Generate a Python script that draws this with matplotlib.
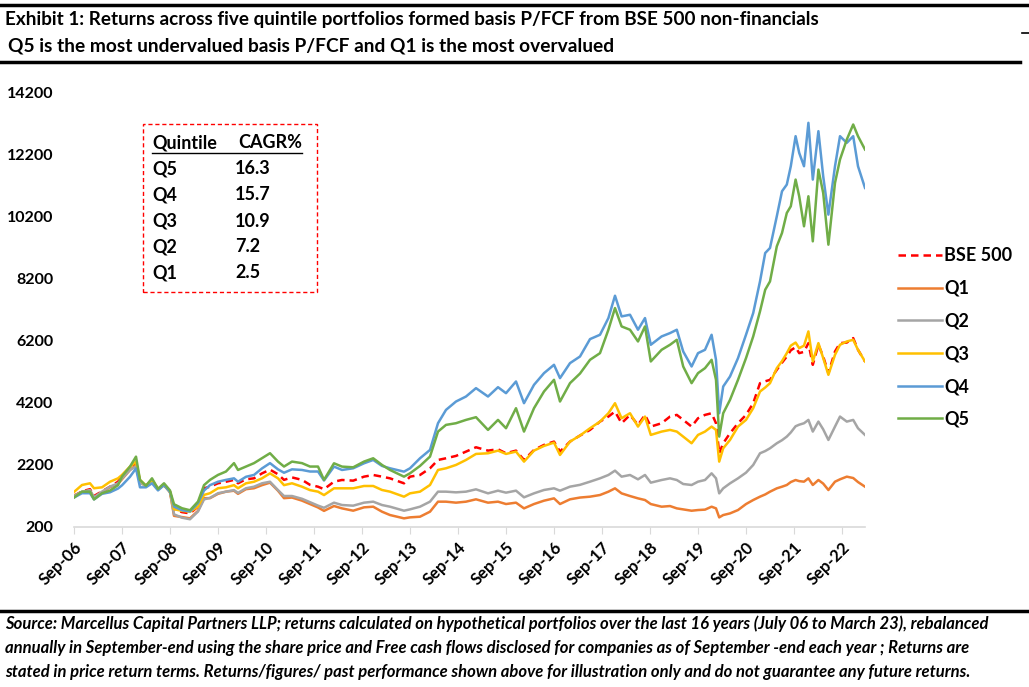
import matplotlib
matplotlib.use("Agg")
import matplotlib.pyplot as plt
from matplotlib.patches import Rectangle
from matplotlib.lines import Line2D

plt.rcParams['font.family'] = ['Lato', 'DejaVu Sans']
plt.rcParams['font.weight'] = 'bold'

# months since Sep-06
months = [0, 2, 4, 5, 7, 9, 11, 12, 14, 15.5, 16.5, 18, 19.5, 21, 22.5, 24, 25, 27, 29, 31,
          32.5, 34, 36, 38, 40, 41, 43, 45, 47, 49, 51, 52.5, 54.5, 57, 59, 61, 62.5, 65, 67, 69.8,
          72.5, 74.8, 77, 79, 82.5, 84, 86.5, 89, 91, 93, 95.5, 98, 100.5, 103.5, 106, 108, 110.5, 112.5,
          115, 117.5, 120, 121.5, 124, 126.5, 129, 131.5, 133.6, 135.25, 136.9, 139, 141, 142.75, 144.2,
          146.9, 149, 150.7, 152.3, 154.4, 156, 157.75, 159.4, 160.5, 161.3, 162.3, 164, 166, 168, 169.8,
          171.5, 172.8, 174, 175.7, 177, 178.2, 179.2, 180.4, 181.3, 182.5, 183.6, 184.7, 186.1, 187.3,
          188.6, 190.25, 191.5, 193.2, 194.8, 196, 197.75]

q5 = [1150, 1340, 1340, 1090, 1290, 1375, 1550, 1830, 2150, 2470, 1720, 1530, 1770, 1430, 1610, 1380, 935, 805, 740, 1020,
      1550, 1720, 1880, 1990, 2260, 2040, 2150, 2260, 2420, 2580, 2310, 2150, 2310, 2260, 2150, 2150, 1720, 2255, 2148, 2126,
      2310, 2417, 2202, 2040, 1824, 1932, 2170, 2471, 3278, 3494, 3548, 3655, 3742, 3332, 3655, 3386, 4032, 3278,
      4032, 4571, 4948, 4248, 4840, 5150, 5593, 5808, 6563, 7263, 6670, 6563, 6185, 6670, 5540,
      5916, 6078, 6239, 5378, 4840, 5163, 5324, 5593, 4947, 3116, 3870, 4301, 4947, 5647, 6347,
      7155, 7853, 8122, 9253, 9684, 10330, 10546, 11407, 10869, 9900, 10869, 9415, 11730, 10976,
      9307, 11300, 12054, 12700, 13184, 12807, 12377]

q4 = [1150, 1290, 1290, 1090, 1270, 1320, 1440, 1545, 1820, 2090, 1480, 1480, 1610, 1380, 1550, 1330, 860, 740, 700, 970,
      1375, 1550, 1660, 1720, 1770, 1660, 1820, 1880, 2090, 2260, 2060, 1950, 2060, 2040, 1990, 1990, 1700, 2148, 2040, 2094,
      2255, 2363, 2170, 2094, 1986, 2094, 2417, 2686, 3548, 3978, 4248, 4409, 4679, 4409, 4710, 4517, 4894, 4194,
      4786, 5163, 5432, 5002, 5486, 5700, 6261, 6401, 6940, 7661, 6993, 7047, 6563, 6940, 6078,
      6347, 6455, 6563, 5862, 5378, 5808, 5916, 6401, 5593, 3870, 4732, 5055, 5647, 6401, 7101,
      8122, 9038, 9200, 10223, 11030, 11246, 11838, 12807, 12269, 11838, 13238, 11407, 12969, 11515,
      10276, 11838, 12807, 12592, 12807, 11838, 11138]

bse500 = [1200, 1350, 1420, 1200, 1350, 1500, 1660, 1830, 2100, 2260, 1660, 1530, 1660, 1430, 1550, 1330, 780, 680, 640, 860,
          1450, 1500, 1610, 1660, 1720, 1610, 1740, 1770, 1930, 2050, 1900, 1720, 1800, 1720, 1560, 1500, 1420, 1663, 1717, 1695,
          1824, 1878, 1824, 1770, 1609, 1824, 1878, 2094, 2363, 2417, 2493, 2632, 2772, 2664, 2707, 2578, 2664, 2363,
          2686, 2848, 2955, 2632, 2955, 3150, 3332, 3600, 3762, 3924, 3547, 3816, 3493, 3816, 3439,
          3547, 3762, 3816, 3655, 3439, 3708, 3816, 3870, 3547, 2578, 2901, 3224, 3547, 3816, 4193,
          4839, 4900, 4947, 5270, 5500, 5701, 5900, 6000, 5808, 5850, 6132, 5432, 6078, 5700,
          5163, 5862, 6132, 6150, 6293, 5916, 5539]

q3 = [1330, 1555, 1610, 1450, 1480, 1660, 1770, 1880, 2150, 2310, 1720, 1530, 1720, 1430, 1550, 1330, 775, 720, 690, 860,
      1235, 1290, 1450, 1480, 1550, 1450, 1610, 1660, 1770, 1930, 1770, 1550, 1610, 1500, 1390, 1340, 1230, 1448, 1448, 1448,
      1523, 1523, 1394, 1340, 1178, 1286, 1340, 1555, 2040, 2094, 2202, 2363, 2557, 2578, 2664, 2557, 2632, 2309,
      2664, 2815, 2923, 2524, 2955, 3150, 3385, 3600, 3870, 4193, 3708, 3870, 3439, 3762, 3170,
      3278, 3332, 3278, 3116, 2901, 3170, 3278, 3439, 3332, 2309, 2739, 3008, 3439, 3655, 4032,
      4570, 4700, 4839, 5324, 5550, 5808, 6050, 6150, 5970, 6050, 6509, 5540, 6132, 5650,
      5109, 5755, 6078, 6185, 6239, 5916, 5539]

q2 = [1200, 1340, 1390, 1160, 1340, 1500, 1610, 1770, 2040, 2150, 1610, 1530, 1660, 1430, 1550, 1330, 610, 500, 450, 700,
      1090, 1140, 1290, 1340, 1390, 1300, 1450, 1500, 1610, 1660, 1390, 1200, 1200, 1110, 1000, 890, 820, 985, 909, 888,
      985, 1017, 909, 855, 726, 769, 855, 1017, 1340, 1340, 1318, 1340, 1415, 1286, 1372, 1308, 1372, 1157,
      1286, 1394, 1448, 1372, 1501, 1560, 1662, 1770, 1878, 2018, 1824, 1878, 1738, 1878, 1630,
      1716, 1770, 1716, 1587, 1555, 1662, 1716, 1932, 1770, 1285, 1447, 1608, 1770, 1953, 2201,
      2578, 2650, 2739, 2901, 3000, 3116, 3250, 3450, 3500, 3547, 3655, 3278, 3600, 3350,
      3008, 3439, 3762, 3600, 3654, 3385, 3170]

q1 = [1220, 1330, 1370, 1140, 1320, 1480, 1590, 1740, 2040, 2200, 1660, 1530, 1720, 1430, 1550, 1330, 560, 520, 480, 720,
      1130, 1130, 1270, 1340, 1370, 1270, 1420, 1450, 1550, 1630, 1370, 1130, 1150, 1050, 940, 830, 720, 877, 801, 726,
      834, 855, 694, 586, 479, 511, 532, 694, 1017, 1017, 985, 1017, 1093, 985, 1017, 941, 985, 801,
      941, 1049, 1124, 941, 1093, 1150, 1178, 1232, 1339, 1447, 1285, 1199, 1124, 1070, 940,
      855, 876, 801, 768, 725, 747, 760, 855, 801, 510, 585, 639, 747, 940, 1070,
      1178, 1250, 1339, 1447, 1500, 1555, 1650, 1716, 1680, 1662, 1770, 1555, 1716, 1600,
      1393, 1662, 1738, 1824, 1780, 1650, 1500]

tick_labels = ['Sep-%02d' % y for y in range(6, 23)]
y_ticks = list(range(200, 14201, 2000))

table_rows = [('Q5', '16.3'), ('Q4', '15.7'), ('Q3', '10.9'), ('Q2', '7.2'), ('Q1', '2.5')]

W, H = 1029, 687
fig = plt.figure(figsize=(W / 100, H / 100), dpi=100)

def fx(px):
    return px / W

def fy(py):
    return 1 - py / H

ax = fig.add_axes([fx(74), fy(527), fx(865) - fx(74), fy(93) - fy(527)])

ax.plot(months, bse500, color='#FF0000', lw=1.8, ls=(0, (3, 2)), label='BSE 500', zorder=2)
ax.plot(months, q1, color='#ED7D31', lw=1.8, label='Q1', zorder=2)
ax.plot(months, q2, color='#A5A5A5', lw=1.8, label='Q2', zorder=2)
ax.plot(months, q3, color='#FFC000', lw=1.8, label='Q3', zorder=3)
ax.plot(months, q4, color='#5B9BD5', lw=1.8, label='Q4', zorder=3)
ax.plot(months, q5, color='#70AD47', lw=1.8, label='Q5', zorder=4)

ax.set_xlim(0, 197.75)
ax.set_ylim(200, 14200)
ax.set_yticks(y_ticks)
ax.set_yticklabels([str(v) for v in y_ticks], fontsize=11.5, fontweight='bold')
ax.set_xticks(list(range(0, 193, 12)))
ax.set_xticklabels(tick_labels, rotation=45, ha='right', rotation_mode='anchor',
                   fontsize=12, fontweight='bold')
ax.tick_params(axis='y', length=0, pad=15)
ax.tick_params(axis='x', length=5, color='#D9D9D9', pad=4)
for s in ['top', 'right', 'left']:
    ax.spines[s].set_visible(False)
ax.spines['bottom'].set_color('#D9D9D9')
ax.spines['bottom'].set_linewidth(1.2)

leg = ax.legend(loc='upper left', bbox_to_anchor=(fx(882), fy(231)), bbox_transform=fig.transFigure,
                frameon=False, handlelength=2.4, handletextpad=0.15, labelspacing=0.87,
                prop={'weight': 'bold', 'size': 13})

# CAGR table
fig.add_artist(Rectangle((fx(143), fy(292)), fx(317) - fx(143), fy(124) - fy(292),
                         transform=fig.transFigure, fill=False, ec='#FF0000', lw=1, ls=(0, (3, 2))))
fig.text(fx(152), fy(143), 'Quintile', fontsize=13, fontweight='bold', va='center')
fig.text(fx(238), fy(143), 'CAGR%', fontsize=13, fontweight='bold', va='center')
fig.add_artist(Line2D([fx(152), fx(302)], [fy(153), fy(153)], transform=fig.transFigure, color='black', lw=1))
for i, (q, v) in enumerate(table_rows):
    yy = 169 + i * 26
    fig.text(fx(152), fy(yy), q, fontsize=13, fontweight='bold', va='center')
    fig.text(fx(235), fy(yy), v, fontsize=13, fontweight='bold', va='center')

# title block
fig.add_artist(Line2D([0, 1], [fy(5), fy(5)], transform=fig.transFigure, color='black', lw=2.5))
fig.text(fx(5), fy(19), 'Exhibit 1: Returns across five quintile portfolios formed basis P/FCF from BSE 500 non-financials',
         fontsize=13.6, fontweight='bold', va='center')
fig.text(fx(8), fy(46), 'Q5 is the most undervalued basis P/FCF and Q1 is the most overvalued',
         fontsize=13.8, fontweight='bold', va='center')
fig.add_artist(Line2D([0, fx(1020)], [fy(62), fy(62)], transform=fig.transFigure, color='black', lw=2.5))
fig.add_artist(Line2D([fx(1022), fx(1029)], [fy(33), fy(33)], transform=fig.transFigure, color='black', lw=1.2))

# footnote
fig.add_artist(Line2D([0, 1], [fy(611), fy(611)], transform=fig.transFigure, color='black', lw=2.5))
notes = ['Source: Marcellus Capital Partners LLP; returns calculated on hypothetical portfolios over the last 16 years (July 06 to March 23), rebalanced',
         'annually in September-end using the share price and Free cash flows disclosed for companies as of September -end each year ; Returns are',
         'stated in price return terms. Returns/figures/ past performance shown above for illustration only and do not guarantee any future returns.']
for i, n in enumerate(notes):
    fig.text(fx(5), fy(624 + i * 24), n, fontsize=12, fontweight='bold', style='italic', va='center')

fig.savefig('out.png', dpi=100)
